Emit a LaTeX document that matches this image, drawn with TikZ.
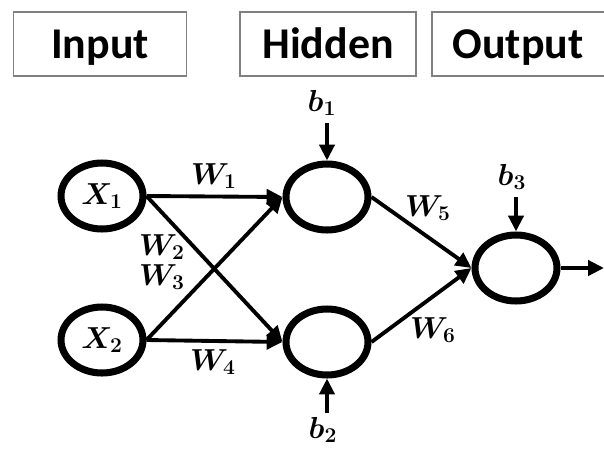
\documentclass[tikz,border=0pt]{standalone}
\usepackage{fontspec}
\usepackage{amsmath}
\usetikzlibrary{shapes.geometric,arrows.meta}
\newfontfamily\layerfont{Carlito}
\definecolor{nnframe}{HTML}{808080}
\tikzset{
  layerfont/.style={font=\layerfont\bfseries\fontsize{25}{29}\selectfont,
    text height=16pt,text depth=0pt},
  layerbox/.style={layerfont,draw=nnframe,line width=0.8pt,minimum height=1.28cm,inner sep=0pt},
  neuron/.style={ellipse,draw,line width=4pt,minimum width=1.64cm,minimum height=1.32cm,
    inner sep=0pt,font=\fontsize{17}{20}\selectfont},
  conn/.style={line width=2.2pt,-{Triangle[length=9pt,width=8.5pt]}},
  wlabel/.style={inner sep=1pt,font=\fontsize{18}{21}\selectfont},
}

\begin{document}
\begin{tikzpicture}[x=0.02cm,y=-0.02cm]
  \useasboundingbox (0,0) rectangle (604,450);
  % layer headings
  \node[layerbox,minimum width=3.46cm] (inbox) at (100,44) {Input};
  \node[layerbox,minimum width=3.52cm] (hidbox) at (328,44) {Hidden};
  \begin{scope}
    \clip (0,0) rectangle (604,450);
    \draw[nnframe,line width=0.8pt] (432,12) rectangle (606,76);
  \end{scope}
  \node[layerfont] (outbox) at (518,44) {Output};
  % neurons
  \node[neuron] (x1) at (102,196) {$\boldsymbol{X_1}$};
  \node[neuron] (x2) at (102,340) {$\boldsymbol{X_2}$};
  \node[neuron] (h1) at (327,197) {};
  \node[neuron] (h2) at (327,342) {};
  \node[neuron] (o) at (516,268) {};
  \coordinate (yout) at (604,268);
  % biases
  \node[wlabel] (b1) at (322,103) {$\boldsymbol{b_1}$};
  \node[wlabel] (b2) at (323,430) {$\boldsymbol{b_2}$};
  \node[wlabel] (b3) at (512,177) {$\boldsymbol{b_3}$};
  \draw[conn] (327,123) -- (h1.north);
  \draw[conn] (327,413) -- (h2.south);
  \draw[conn] (516,197) -- (o.north);
  % weights
  \draw[conn] (x1.east) -- (h1.west);
  \draw[conn] (x1.east) -- (h2.west);
  \draw[conn] (x2.east) -- (h1.west);
  \draw[conn] (x2.east) -- (h2.west);
  \draw[conn] (h1.east) -- (o.west);
  \draw[conn] (h2.east) -- (o.west);
  \draw[conn] (o.east) -- (yout);
  \node[wlabel] (w1) at (214,176) {$\boldsymbol{W_1}$};
  \node[wlabel] (w2) at (162,247) {$\boldsymbol{W_2}$};
  \node[wlabel] (w3) at (162,277) {$\boldsymbol{W_3}$};
  \node[wlabel] (w4) at (213,362) {$\boldsymbol{W_4}$};
  \node[wlabel] (w5) at (428,208) {$\boldsymbol{W_5}$};
  \node[wlabel] (w6) at (433,330) {$\boldsymbol{W_6}$};
\end{tikzpicture}
\end{document}
